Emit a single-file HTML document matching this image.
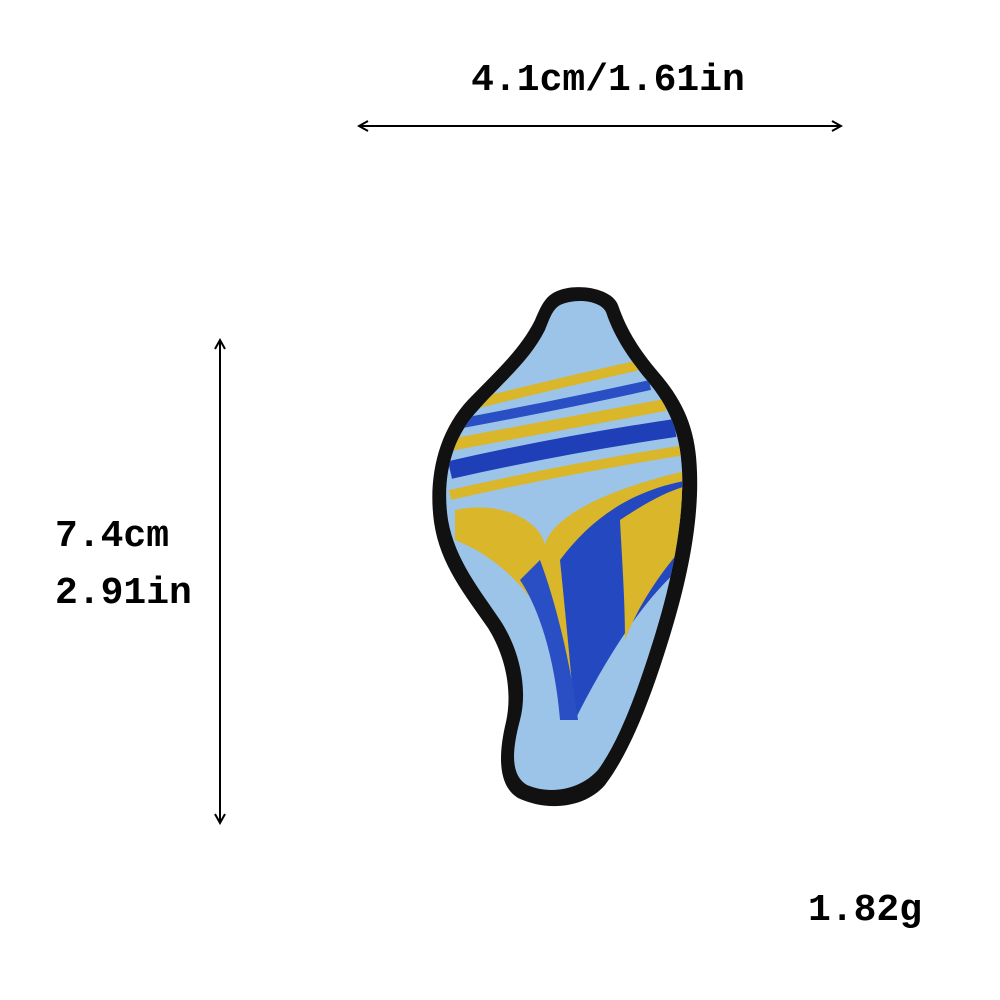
<!DOCTYPE html>
<html><head><meta charset="utf-8"><style>
html,body{margin:0;padding:0;background:#fff;width:1000px;height:1000px;overflow:hidden}
svg{display:block}
text{font-family:"Liberation Mono","DejaVu Sans Mono",monospace;font-weight:bold;fill:#000}
</style></head><body>
<svg width="1000" height="1000" viewBox="0 0 1000 1000">
  <defs>
    <marker id="ah" viewBox="0 0 12 12" refX="10" refY="6" markerWidth="12" markerHeight="12" orient="auto-start-reverse" markerUnits="userSpaceOnUse">
      <path d="M1,1 L10,6 L1,11" fill="none" stroke="#000" stroke-width="2"/>
    </marker>
    <clipPath id="inner">
      <path d="M560,305 C575,298 600,300 606,312 C612,330 622,350 645,378 C668,405 680,430 682,470 C684,520 672,580 655,635 C638,690 620,740 598,770 C580,790 550,795 527,785 C510,775 512,750 520,720 C528,690 520,650 500,620 C480,590 455,560 448,520 C442,480 450,440 478,410 C505,380 530,360 545,330 C550,318 552,310 560,305 Z"/>
    </clipPath>
  </defs>
  <text x="608" y="90" font-size="38" text-anchor="middle">4.1cm/1.61in</text>
  <line x1="359" y1="126" x2="841" y2="126" stroke="#000" stroke-width="2" marker-start="url(#ah)" marker-end="url(#ah)"/>
  <line x1="220" y1="340" x2="220" y2="823" stroke="#000" stroke-width="2" marker-start="url(#ah)" marker-end="url(#ah)"/>
  <text x="55" y="546" font-size="38">7.4cm</text>
  <text x="55" y="603" font-size="38">2.91in</text>
  <text x="808" y="920" font-size="38">1.82g</text>

  <g>
    <path d="M555,292 C575,282 612,288 618,305 C625,325 635,345 658,372 C684,402 696,430 697,472 C699,525 686,585 668,642 C650,700 630,752 605,785 C585,808 548,812 518,798 C498,786 498,755 506,722 C513,690 505,655 488,628 C466,596 440,565 434,522 C428,478 438,432 468,400 C495,372 520,350 535,320 C541,306 545,297 555,292 Z" fill="#111"/>
    <g clip-path="url(#inner)">
      <rect x="430" y="290" width="280" height="520" fill="#9cc4e8"/>
      <path d="M450,410 Q550,385 640,365" stroke="#d9b62a" stroke-width="10" fill="none"/>
      <path d="M452,425 Q560,405 650,385" stroke="#2a4fc4" stroke-width="10" fill="none"/>
      <path d="M450,445 Q560,425 665,405" stroke="#d9b62a" stroke-width="12" fill="none"/>
      <path d="M450,470 Q560,445 675,428" stroke="#1f3fb8" stroke-width="18" fill="none"/>
      <path d="M450,495 Q560,470 685,450" stroke="#d9b62a" stroke-width="10" fill="none"/>
      <path d="M455,510 C500,500 540,520 545,545 C550,520 600,490 690,470 L690,520 C640,540 600,600 580,700 C560,640 530,570 455,540 Z" fill="#d9b62a"/>
      <path d="M560,560 C590,520 630,490 690,480 L690,560 C650,590 610,650 575,720 C570,660 565,610 560,560 Z" fill="#2448c0"/>
      <path d="M620,520 C650,500 670,490 690,485 L690,540 C670,560 640,600 625,640 C625,600 622,560 620,520 Z" fill="#d9b62a"/>
      <path d="M540,560 C555,600 570,660 578,720 L560,720 C555,660 540,610 520,580 Z" fill="#2a4fc4"/>
    </g>
  </g>
</svg>
</body></html>
